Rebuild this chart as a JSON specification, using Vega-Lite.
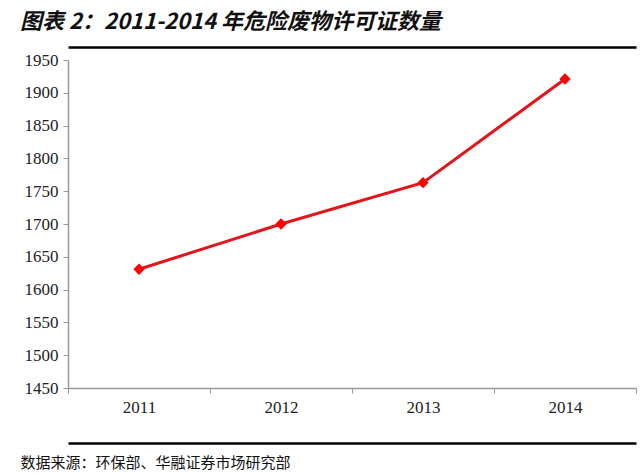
{
  "$schema": "https://vega.github.io/schema/vega-lite/v6.json",
  "width": 568,
  "height": 328,
  "autosize": {"type": "none"},
  "padding": {"left": 68, "top": 60, "right": 4, "bottom": 86},
  "background": "white",
  "title": {
    "text": "图表 2：2011-2014 年危险废物许可证数量",
    "anchor": "start",
    "frame": "group",
    "dx": -48,
    "offset": 13,
    "font": "Noto Sans CJK SC",
    "fontSize": 22,
    "fontWeight": "bold",
    "fontStyle": "italic",
    "color": "#111111"
  },
  "data": {
    "values": [
      {"year": "2011", "count": 1631},
      {"year": "2012", "count": 1700},
      {"year": "2013", "count": 1763},
      {"year": "2014", "count": 1921}
    ]
  },
  "config": {
    "view": {"stroke": null},
    "axis": {"grid": false}
  },
  "encoding": {
    "y": {
      "field": "count",
      "type": "quantitative",
      "scale": {"domain": [1450, 1950], "nice": false, "zero": false},
      "axis": {
        "title": null,
        "values": [1450, 1500, 1550, 1600, 1650, 1700, 1750, 1800, 1850, 1900, 1950],
        "format": "d",
        "labelOverlap": false,
        "labelFont": "Liberation Serif",
        "labelFontSize": 17,
        "labelColor": "#222222",
        "labelPadding": 5,
        "tickSize": 5,
        "tickColor": "#999999",
        "domainColor": "#999999",
        "domainWidth": 1.5
      }
    }
  },
  "layer": [
    {
      "mark": {
        "type": "line",
        "color": "#E3151B",
        "strokeWidth": 3,
        "point": {"shape": "diamond", "size": 130, "color": "#FF0000", "filled": true, "opacity": 1}
      },
      "encoding": {
        "x": {
          "field": "year",
          "type": "ordinal",
          "bandPosition": 0.5,
          "scale": {"type": "band", "paddingInner": 0, "paddingOuter": 0},
          "axis": {
            "title": null,
            "labelAngle": 0,
            "labelFont": "Liberation Serif",
            "labelFontSize": 17,
            "labelColor": "#222222",
            "labelPadding": 6,
            "tickBand": "extent",
            "tickSize": 5,
            "tickColor": "#999999",
            "domainColor": "#999999",
            "domainWidth": 1.5
          }
        }
      }
    },
    {
      "mark": {"type": "point", "opacity": 0},
      "encoding": {
        "x": {
          "field": "year",
          "type": "ordinal",
          "bandPosition": 0.5,
          "scale": {"type": "band", "paddingInner": 0, "paddingOuter": 0},
          "axis": {
            "orient": "top",
            "offset": 13,
            "title": null,
            "labels": false,
            "ticks": false,
            "domainColor": "#000000",
            "domainWidth": 2.5
          }
        }
      }
    },
    {
      "mark": {"type": "point", "opacity": 0},
      "encoding": {
        "x": {
          "field": "year",
          "type": "ordinal",
          "bandPosition": 0.5,
          "scale": {"type": "band", "paddingInner": 0, "paddingOuter": 0},
          "axis": {
            "orient": "bottom",
            "offset": 55,
            "labels": false,
            "ticks": false,
            "domainColor": "#000000",
            "domainWidth": 2.5,
            "title": "数据来源：环保部、华融证券市场研究部",
            "titleFont": "Noto Sans CJK SC",
            "titleFontSize": 15,
            "titleFontWeight": "normal",
            "titleColor": "#111111",
            "titleAnchor": "start",
            "titleAlign": "left",
            "titleBaseline": "middle",
            "titleX": -48,
            "titleY": 19
          }
        }
      }
    }
  ],
  "resolve": {"axis": {"x": "independent", "y": "shared"}}
}
